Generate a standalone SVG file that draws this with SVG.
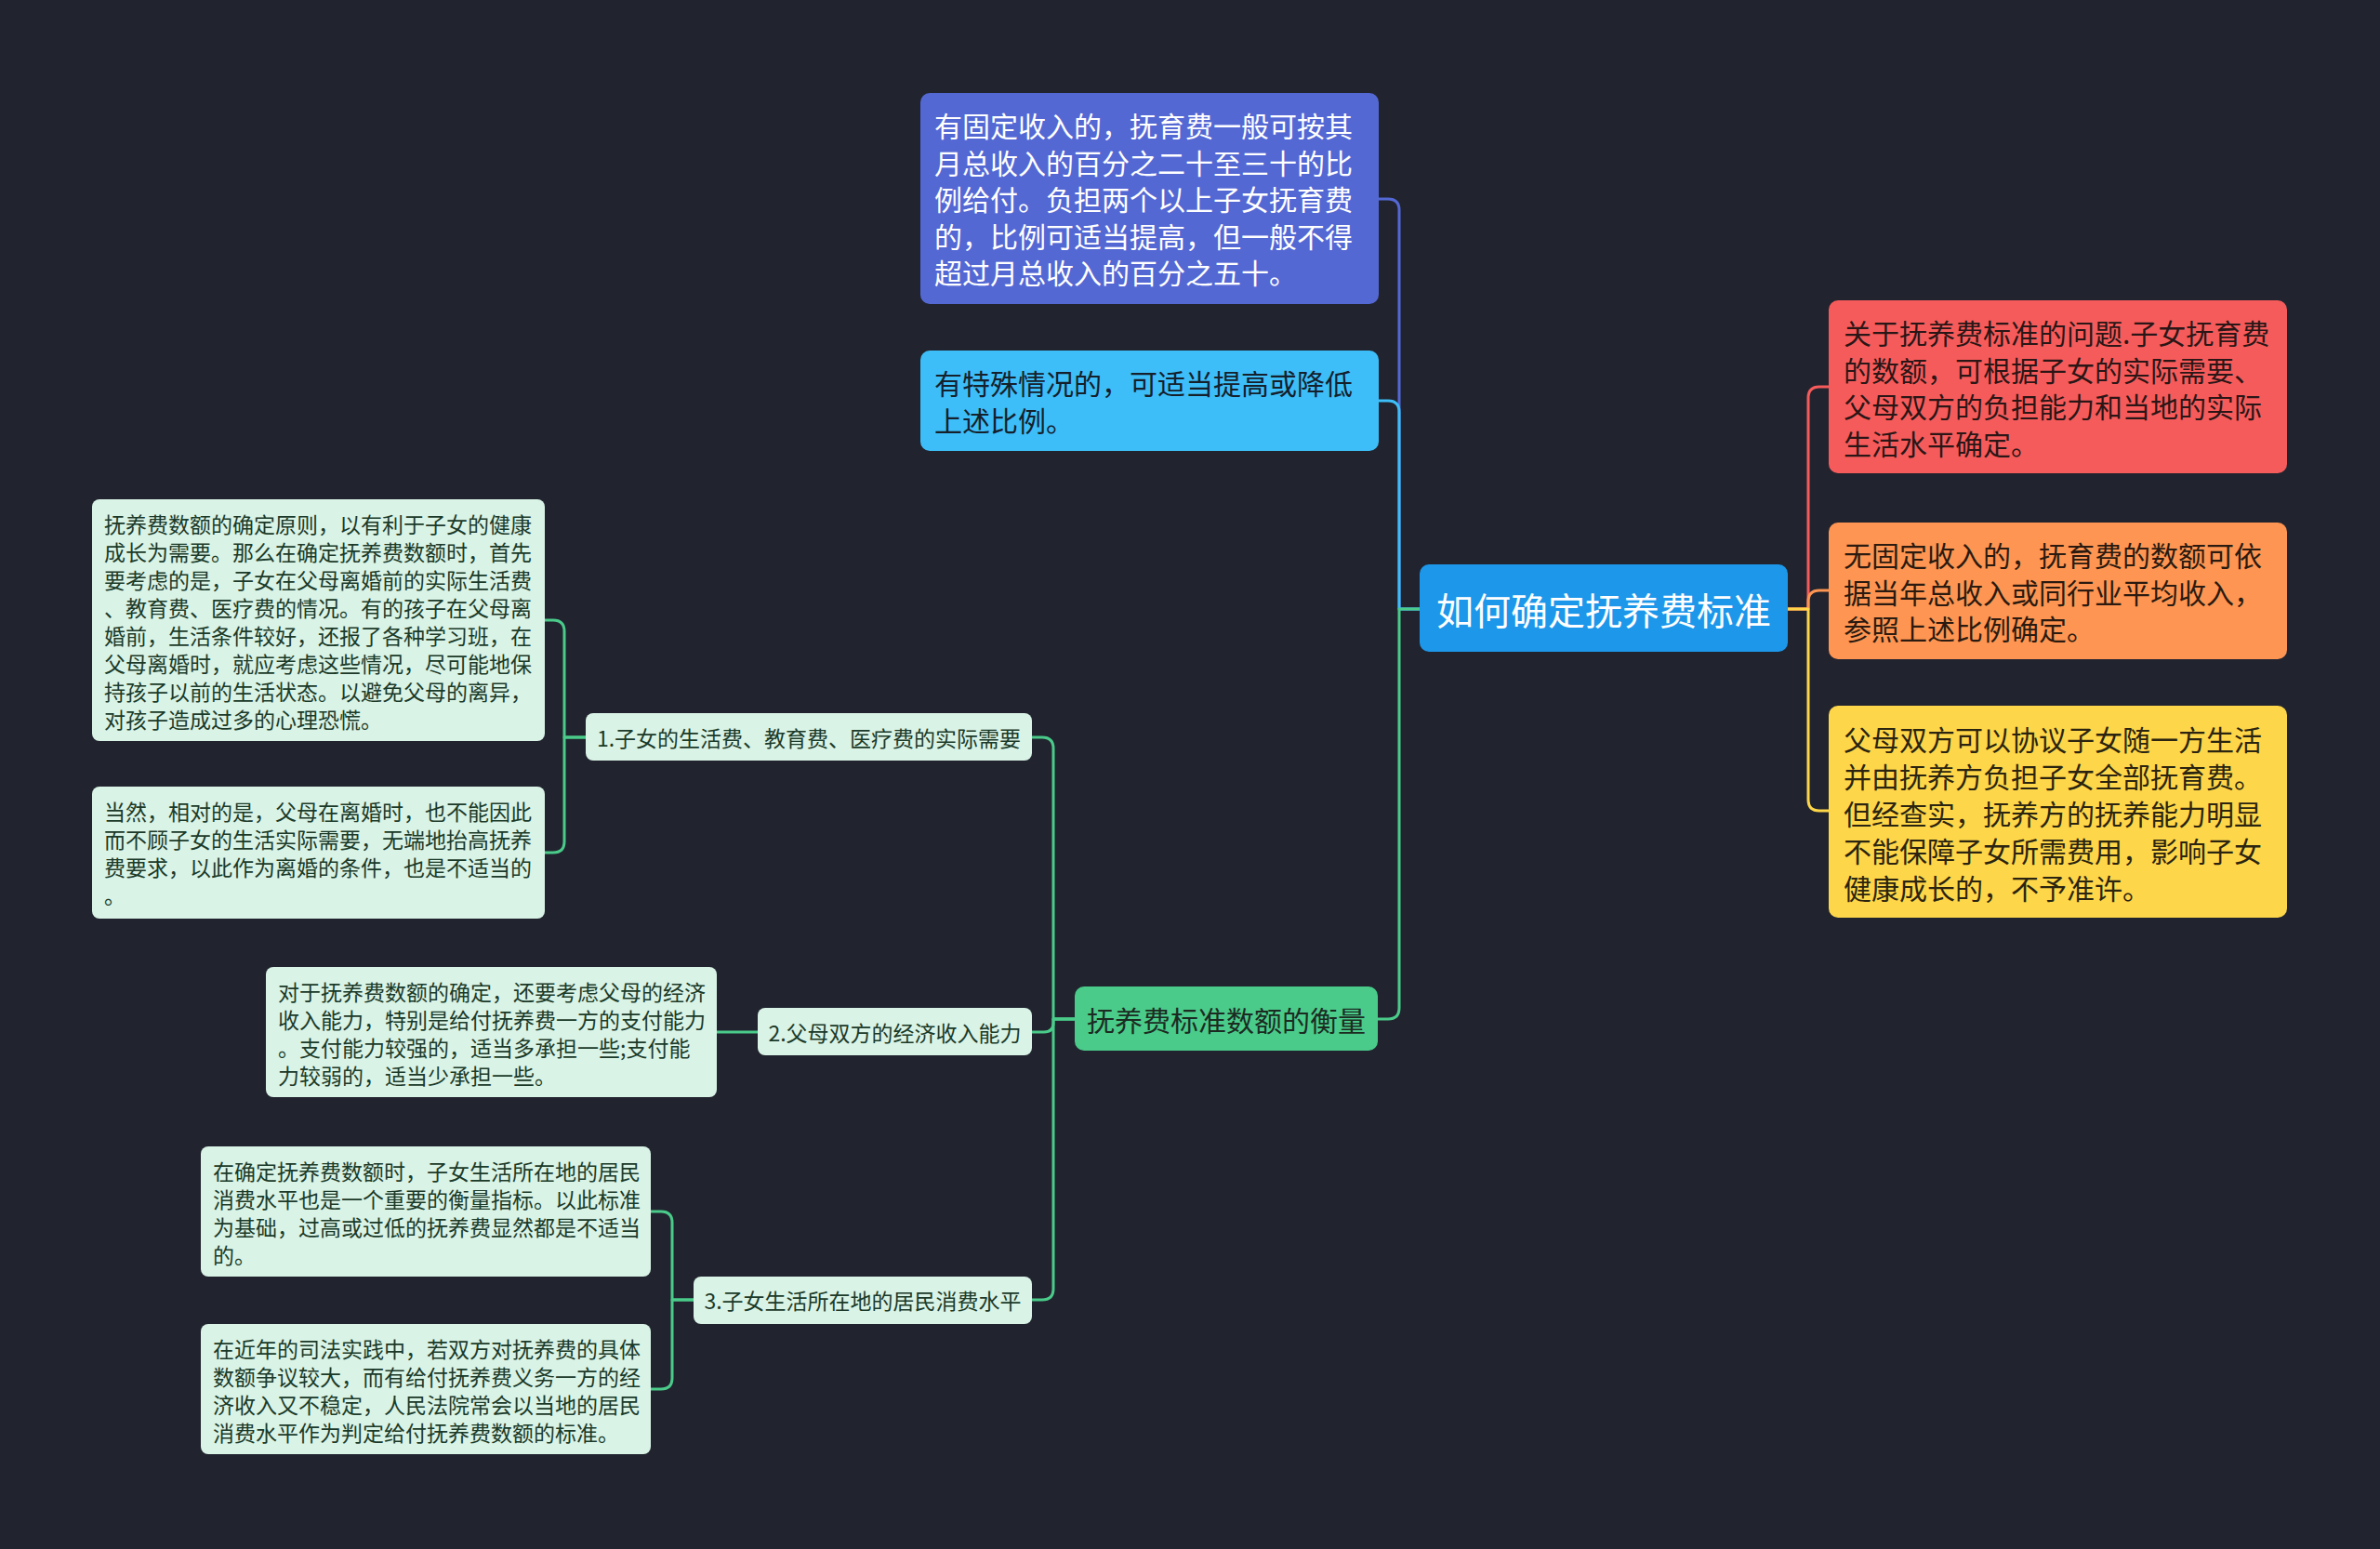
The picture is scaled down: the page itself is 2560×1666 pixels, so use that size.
<svg xmlns="http://www.w3.org/2000/svg" width="2560" height="1666" viewBox="0 0 2560 1666">
<style>
text{font-family:"Noto Sans CJK SC","Noto Sans",sans-serif;dominant-baseline:central}
.big{font-size:30px}
.ctr{font-size:40px;fill:#ffffff;text-anchor:middle}
.sub{font-size:23px;fill:#1b3a29;text-anchor:middle}
.leaf{font-size:23px;fill:#1b3a29}
.lf{fill:#d9f3e6}
.c{fill:none;stroke-width:3;stroke-linecap:round;stroke-linejoin:round}
.g{stroke:#4acb8a}
</style>
<rect x="0" y="0" width="2560" height="1666" fill="#21242f"/>
<g id="connectors">
<path class="c" stroke="#5468d4" d="M1527,655 H1505 V226 Q1505,214 1493,214 H1483"/>
<path class="c" stroke="#3dbef8" d="M1527,655 H1505 V443 Q1505,431 1493,431 H1483"/>
<path class="c g" d="M1527,655 H1505 V1084 Q1505,1096 1493,1096 H1482"/>
<path class="c" stroke="#f65b5b" d="M1923,655 H1945 V428 Q1945,416 1957,416 H1967"/>
<path class="c" stroke="#fe9552" d="M1923,655 H1945 V647 Q1945,635 1957,635 H1967"/>
<path class="c" stroke="#fed649" d="M1923,655 H1945 V860 Q1945,872 1957,872 H1967"/>
<path class="c g" d="M1156,1096 H1133 V805 Q1133,793 1121,793 H1110"/>
<path class="c g" d="M1156,1096 H1133 V1100 Q1133,1110 1123,1110 H1110"/>
<path class="c g" d="M1156,1096 H1133 V1386 Q1133,1398 1121,1398 H1110"/>
<path class="c g" d="M630,793 H607 V679 Q607,667 595,667 H585"/>
<path class="c g" d="M630,793 H607 V905 Q607,917 595,917 H585"/>
<path class="c g" d="M815,1110 H771"/>
<path class="c g" d="M746,1398 H723 V1315 Q723,1303 711,1303 H700"/>
<path class="c g" d="M746,1398 H723 V1482 Q723,1494 711,1494 H700"/>
</g>
<g id="root">
<rect x="1527" y="607" width="396" height="94" rx="10" fill="#1d97ea"/>
<text class="ctr" x="1725" y="655">如何确定抚养费标准</text>
</g>
<g id="n-fixed">
<rect x="990" y="100" width="493" height="227" rx="10" fill="#5468d4"/>
<text class="big" fill="#ffffff" x="1005" y="134">有固定收入的，抚育费一般可按其</text>
<text class="big" fill="#ffffff" x="1005" y="173.5">月总收入的百分之二十至三十的比</text>
<text class="big" fill="#ffffff" x="1005" y="213">例给付。负担两个以上子女抚育费</text>
<text class="big" fill="#ffffff" x="1005" y="252.5">的，比例可适当提高，但一般不得</text>
<text class="big" fill="#ffffff" x="1005" y="292">超过月总收入的百分之五十。</text>
</g>
<g id="n-special">
<rect x="990" y="377" width="493" height="108" rx="10" fill="#3dbef8"/>
<text class="big" fill="#15202b" x="1005" y="411">有特殊情况的，可适当提高或降低</text>
<text class="big" fill="#15202b" x="1005" y="450.5">上述比例。</text>
</g>
<g id="n-red">
<rect x="1967" y="323" width="493" height="186" rx="10" fill="#f65b5b"/>
<text class="big" fill="#2a1616" x="1983" y="357">关于抚养费标准的问题.子女抚育费</text>
<text class="big" fill="#2a1616" x="1983" y="396.5">的数额，可根据子女的实际需要、</text>
<text class="big" fill="#2a1616" x="1983" y="436">父母双方的负担能力和当地的实际</text>
<text class="big" fill="#2a1616" x="1983" y="475.5">生活水平确定。</text>
</g>
<g id="n-orange">
<rect x="1967" y="562" width="493" height="147" rx="10" fill="#fe9552"/>
<text class="big" fill="#2a1a10" x="1983" y="596">无固定收入的，抚育费的数额可依</text>
<text class="big" fill="#2a1a10" x="1983" y="635.5">据当年总收入或同行业平均收入，</text>
<text class="big" fill="#2a1a10" x="1983" y="675">参照上述比例确定。</text>
</g>
<g id="n-yellow">
<rect x="1967" y="759" width="493" height="228" rx="10" fill="#fed649"/>
<text class="big" fill="#2a2410" x="1983" y="794">父母双方可以协议子女随一方生活</text>
<text class="big" fill="#2a2410" x="1983" y="834">并由抚养方负担子女全部抚育费。</text>
<text class="big" fill="#2a2410" x="1983" y="874">但经查实，抚养方的抚养能力明显</text>
<text class="big" fill="#2a2410" x="1983" y="914">不能保障子女所需费用，影响子女</text>
<text class="big" fill="#2a2410" x="1983" y="954">健康成长的，不予准许。</text>
</g>
<g id="n-measure">
<rect x="1156" y="1061" width="326" height="69" rx="10" fill="#4acb8a"/>
<text class="big" fill="#1c2b22" x="1319" y="1096" text-anchor="middle">抚养费标准数额的衡量</text>
</g>
<g id="s1">
<rect class="lf" x="630" y="767" width="480" height="51" rx="8"/>
<text class="sub" x="870" y="793">1.子女的生活费、教育费、医疗费的实际需要</text>
</g>
<g id="s2">
<rect class="lf" x="815" y="1084" width="295" height="51" rx="8"/>
<text class="sub" x="962.5" y="1110">2.父母双方的经济收入能力</text>
</g>
<g id="s3">
<rect class="lf" x="746" y="1373" width="364" height="51" rx="8"/>
<text class="sub" x="928" y="1398">3.子女生活所在地的居民消费水平</text>
</g>
<g id="l1a">
<rect class="lf" x="99" y="537" width="487" height="260" rx="8"/>
<text class="leaf" x="112" y="563">抚养费数额的确定原则，以有利于子女的健康</text>
<text class="leaf" x="112" y="593">成长为需要。那么在确定抚养费数额时，首先</text>
<text class="leaf" x="112" y="623">要考虑的是，子女在父母离婚前的实际生活费</text>
<text class="leaf" x="112" y="653">、教育费、医疗费的情况。有的孩子在父母离</text>
<text class="leaf" x="112" y="683">婚前，生活条件较好，还报了各种学习班，在</text>
<text class="leaf" x="112" y="713">父母离婚时，就应考虑这些情况，尽可能地保</text>
<text class="leaf" x="112" y="743">持孩子以前的生活状态。以避免父母的离异，</text>
<text class="leaf" x="112" y="773">对孩子造成过多的心理恐慌。</text>
</g>
<g id="l1b">
<rect class="lf" x="99" y="846" width="487" height="142" rx="8"/>
<text class="leaf" x="112" y="872">当然，相对的是，父母在离婚时，也不能因此</text>
<text class="leaf" x="112" y="902">而不顾子女的生活实际需要，无端地抬高抚养</text>
<text class="leaf" x="112" y="932">费要求，以此作为离婚的条件，也是不适当的</text>
<text class="leaf" x="112" y="962">。</text>
</g>
<g id="l2">
<rect class="lf" x="286" y="1040" width="485" height="140" rx="8"/>
<text class="leaf" x="299" y="1066">对于抚养费数额的确定，还要考虑父母的经济</text>
<text class="leaf" x="299" y="1096">收入能力，特别是给付抚养费一方的支付能力</text>
<text class="leaf" x="299" y="1126">。支付能力较强的，适当多承担一些;支付能</text>
<text class="leaf" x="299" y="1156">力较弱的，适当少承担一些。</text>
</g>
<g id="l3a">
<rect class="lf" x="216" y="1233" width="484" height="140" rx="8"/>
<text class="leaf" x="229" y="1259">在确定抚养费数额时，子女生活所在地的居民</text>
<text class="leaf" x="229" y="1289">消费水平也是一个重要的衡量指标。以此标准</text>
<text class="leaf" x="229" y="1319">为基础，过高或过低的抚养费显然都是不适当</text>
<text class="leaf" x="229" y="1349">的。</text>
</g>
<g id="l3b">
<rect class="lf" x="216" y="1424" width="484" height="140" rx="8"/>
<text class="leaf" x="229" y="1450">在近年的司法实践中，若双方对抚养费的具体</text>
<text class="leaf" x="229" y="1480">数额争议较大，而有给付抚养费义务一方的经</text>
<text class="leaf" x="229" y="1510">济收入又不稳定，人民法院常会以当地的居民</text>
<text class="leaf" x="229" y="1540">消费水平作为判定给付抚养费数额的标准。</text>
</g>
</svg>
